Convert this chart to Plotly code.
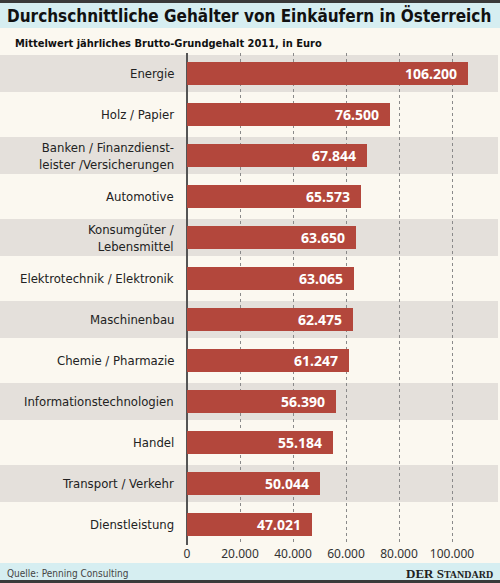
import plotly.graph_objects as go

# Daten (Mittelwert jährliches Brutto-Grundgehalt 2011, in Euro)
branchen = [
    "Energie",
    "Holz / Papier",
    "Banken / Finanzdienst-<br>leister /Versicherungen",
    "Automotive",
    "Konsumgüter /<br>Lebensmittel",
    "Elektrotechnik / Elektronik",
    "Maschinenbau",
    "Chemie / Pharmazie",
    "Informationstechnologien",
    "Handel",
    "Transport / Verkehr",
    "Dienstleistung",
]
gehalt = [106200, 76500, 67844, 65573, 63650, 63065, 62475, 61247, 56390, 55184, 50044, 47021]

tick_werte = [0, 20000, 40000, 60000, 80000, 100000]
tick_texte = ["0", "20.000", "40.000", "60.000", "80.000", "100.000"]

titel = "Durchschnittliche Gehälter von Einkäufern in Österreich"
untertitel = "Mittelwert jährliches Brutto-Grundgehalt 2011, in Euro"
quelle = "Quelle: Penning Consulting"

BAR = "#b3473c"
GRAU = "#e4e0db"
CREME = "#fbf8f0"
CYAN = "#d6eef1"
DUNKEL = "#222222"
SCHMAL = "DejaVu Sans Condensed, Roboto, sans-serif"

W, H = 500, 583
M_T, M_B = 53, 38
plot_h = H - M_T - M_B


def py(px_from_top):
    # Pixel (von oben) -> paper-Koordinate
    return (H - M_B - px_from_top) / plot_h


fig = go.Figure()
fig.add_trace(go.Bar(
    x=gehalt, y=list(range(len(branchen))), orientation="h",
    marker=dict(color=BAR, line=dict(width=0)),
    width=0.57, hoverinfo="x",
))

shapes = []
# graue Zeilenbänder
for i in range(0, len(branchen), 2):
    shapes.append(dict(type="rect", xref="paper", yref="paper", layer="below",
                       x0=0, x1=0.996,
                       y0=1 - (i + 0.95) / len(branchen), y1=1 - (i + 0.05) / len(branchen),
                       fillcolor=GRAU, line_width=0))
# Kopf- und Fußband
shapes += [
    dict(type="rect", xref="paper", yref="paper", x0=0, x1=1, y0=py(28), y1=py(0),
         fillcolor=CYAN, line_width=0, layer="below"),
    dict(type="rect", xref="paper", yref="paper", x0=0, x1=1, y0=py(3), y1=py(0),
         fillcolor="#3a3a3a", line_width=0),
    dict(type="rect", xref="paper", yref="paper", x0=0, x1=1, y0=py(581), y1=py(563),
         fillcolor=CYAN, line_width=0, layer="below"),
    dict(type="rect", xref="paper", yref="paper", x0=0, x1=1, y0=py(583), y1=py(580),
         fillcolor="#3a3a3a", line_width=0),
]

annotations = []
for i, (b, v) in enumerate(zip(branchen, gehalt)):
    annotations.append(dict(x=0, y=i, xref="x", yref="y", text=b, showarrow=False,
                            xanchor="right", align="right", xshift=-11,
                            font=dict(family=SCHMAL, size=13, color=DUNKEL)))
    annotations.append(dict(x=v, y=i, xref="x", yref="y",
                            text="<b>" + f"{v:,}".replace(",", ".") + "</b>",
                            showarrow=False, xanchor="right", xshift=-9,
                            font=dict(family="Noto Sans", size=14, color="white")))

annotations += [
    dict(x=0.01, y=py(15), xref="paper", yref="paper", text="<b>" + titel + "</b>",
         showarrow=False, xanchor="left", yanchor="middle",
         font=dict(family=SCHMAL, size=17, color="#111111")),
    dict(x=0.026, y=py(43), xref="paper", yref="paper", text="<b>" + untertitel + "</b>",
         showarrow=False, xanchor="left", yanchor="middle",
         font=dict(family=SCHMAL, size=11, color="#111111")),
    dict(x=0.01, y=py(573), xref="paper", yref="paper", text=quelle,
         showarrow=False, xanchor="left", yanchor="middle",
         font=dict(family=SCHMAL, size=10, color="#444444")),
    dict(x=0.99, y=py(573), xref="paper", yref="paper",
         text="<b>DER S<span style='font-size:10px'>TANDARD</span></b>",
         showarrow=False, xanchor="right", yanchor="middle",
         font=dict(family="Liberation Serif", size=13, color="#222222")),
]

fig.update_layout(
    width=W, height=H,
    margin=dict(l=0, r=0, t=M_T, b=M_B),
    paper_bgcolor=CREME, plot_bgcolor="rgba(0,0,0,0)",
    showlegend=False, bargap=0,
    shapes=shapes, annotations=annotations,
    xaxis=dict(
        range=[-70570, 118110], tickvals=tick_werte, ticktext=tick_texte,
        showgrid=True, gridcolor="#8a8a8a", griddash="dot", gridwidth=1,
        zeroline=True, zerolinecolor="#555555", zerolinewidth=1.5,
        ticks="", tickfont=dict(family="Noto Sans", size=12, color="#333333"),
        fixedrange=True,
    ),
    yaxis=dict(
        range=[len(branchen) - 0.5, -0.5], showticklabels=False,
        showgrid=False, zeroline=False, fixedrange=True,
    ),
)

# Seitenrand des Browsers entfernen, damit 500x583 genau passt
fig.write_html("out.html", config={"displayModeBar": False},
               post_script="document.body.style.margin='0';")
